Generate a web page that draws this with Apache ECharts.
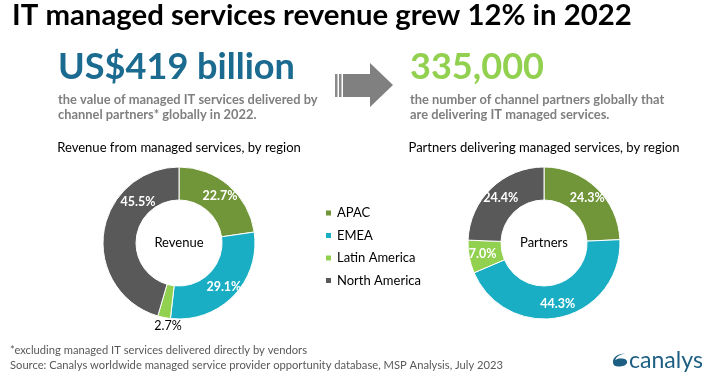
<!DOCTYPE html>
<html>
<head>
<meta charset="utf-8">
<script src="https://cdn.jsdelivr.net/npm/echarts@6/dist/echarts.min.js"></script>
<style>
  html, body { margin: 0; padding: 0; background: #fff; }
  #chart { width: 714px; height: 378px; }
</style>
</head>
<body>
<div id="chart"></div>
<script>
// ---- Data ----
const regions = ['APAC', 'EMEA', 'Latin America', 'North America'];
const revenueShare = [22.7, 29.1, 2.7, 45.5];
const partnerShare = [24.3, 44.3, 7.0, 24.4];

const headline = 'IT managed services revenue grew 12% in 2022';
const revenueTotal = 'US$419 billion';
const revenueNote = ['the value of managed IT services delivered by', 'channel partners* globally in 2022.'];
const partnerTotal = '335,000';
const partnerNote = ['the number of channel partners globally that', 'are delivering IT managed services.'];
const revenueChartTitle = 'Revenue from managed services, by region';
const partnerChartTitle = 'Partners delivering managed services, by region';
const revenueCenter = 'Revenue';
const partnerCenter = 'Partners';
const footnotes = ['*excluding managed IT services delivered directly by vendors',
  'Source: Canalys worldwide managed service provider opportunity database, MSP Analysis, July 2023'];
const brand = 'canalys';

// ---- Style / layout ----
const FAMILY = 'Lato, "Open Sans", sans-serif';
const colors = ['#71963a', '#1aaec4', '#92d050', '#595959'];
const LC = [179, 243], RC = [544, 243];
const RADIUS = [43, 76];

const cv = document.createElement('canvas').getContext('2d');
function fit(text, weight, width) {
  cv.font = weight + ' 100px Lato';
  return 100 * width / cv.measureText(text).width;
}

const titleSize = fit(headline, 'bold', 620);
const bigSize = fit(revenueTotal, 'bold', 237);
const noteSize = fit(revenueNote[0], 'bold', 260);
const footSize = fit(footnotes[1], 'normal', 494);
const chartTitleSize = fit(revenueChartTitle, 'normal', 244);
const brandSize = fit(brand, 'normal', 74);

function txt(x, y, text, size, weight, fill, align) {
  return {
    type: 'text', x: x, y: y, silent: true,
    style: {
      text: text, fontSize: size, fontWeight: weight, fontFamily: FAMILY,
      fill: fill, align: align || 'left', verticalAlign: 'middle'
    }
  };
}

// label overrides for the revenue donut (angle clockwise from top, radius px)
const leftLabelOverride = { 2: { angle: 187.5, r: 84 }, 3: { angle: 315, r: 58 } };

function pieSeries(name, values, center, overrides) {
  const s = {
    type: 'pie',
    name: name,
    center: center,
    radius: RADIUS,
    startAngle: 90,
    clockwise: true,
    avoidLabelOverlap: false,
    silent: true,
    itemStyle: { borderColor: '#fff', borderWidth: 1 },
    label: {
      show: true, position: 'inside', color: '#fff', fontFamily: FAMILY,
      fontSize: 12.5, fontWeight: 'bold',
      formatter: p => p.value.toFixed(1) + '%'
    },
    labelLine: { show: false },
    data: regions.map((r, i) => {
      const d = { name: r, value: values[i], itemStyle: { color: colors[i] } };
      if (overrides && overrides[i] && i === 2) {
        d.label = { color: '#000', fontWeight: 'normal' };
      }
      return d;
    })
  };
  if (overrides) {
    s.labelLayout = function (p) {
      const o = overrides[p.dataIndex];
      if (!o) return {};
      const a = o.angle * Math.PI / 180;
      return { x: center[0] + o.r * Math.sin(a), y: center[1] - o.r * Math.cos(a), align: 'center', verticalAlign: 'middle' };
    };
  }
  return s;
}

const logoSvg = '<svg xmlns="http://www.w3.org/2000/svg" width="16" height="15" viewBox="612 353 17 15">' +
  '<path fill="#1d5f82" d="M613,362 C613,357 618,353 626,353 C620,354 616,357 615.5,360 C617,358.5 620,358 623,358.5 C627,359 628.5,361 628,363 C627,366 623,367 619,367 C615,367 613,365 613,362 Z"/></svg>';

const chart = echarts.init(document.getElementById('chart'), null, { renderer: 'canvas' });
chart.setOption({
  backgroundColor: '#fff',
  animation: false,
  color: colors,
  legend: {
    orient: 'vertical',
    left: 319, top: 201,
    icon: 'rect',
    itemWidth: 7, itemHeight: 7,
    itemGap: 8.5,
    selectedMode: false,
    data: regions,
    textStyle: { fontFamily: FAMILY, fontSize: 13, color: '#000', lineHeight: 14 }
  },
  series: [
    pieSeries('Revenue', revenueShare, LC, leftLabelOverride),
    pieSeries('Partners', partnerShare, RC, null)
  ],
  graphic: [
    txt(12, 16, headline, titleSize, 'bold', '#000'),
    txt(58, 67, revenueTotal, bigSize, 'bold', '#1b6a8f'),
    txt(410, 67, partnerTotal, bigSize, 'bold', '#92d050'),
    txt(58, 100, revenueNote[0], noteSize, 'bold', '#7f7f7f'),
    txt(58, 115, revenueNote[1], noteSize, 'bold', '#7f7f7f'),
    txt(410, 100, partnerNote[0], noteSize, 'bold', '#7f7f7f'),
    txt(410, 115, partnerNote[1], noteSize, 'bold', '#7f7f7f'),
    txt(LC[0], 148, revenueChartTitle, chartTitleSize, 'normal', '#000', 'center'),
    txt(RC[0], 148, partnerChartTitle, chartTitleSize, 'normal', '#000', 'center'),
    txt(LC[0], LC[1], revenueCenter, 13, 'normal', '#000', 'center'),
    txt(RC[0], RC[1], partnerCenter, 13, 'normal', '#000', 'center'),
    txt(10, 350, footnotes[0], footSize, 'normal', '#595959'),
    txt(10, 365, footnotes[1], footSize, 'normal', '#595959'),
    // arrow
    { type: 'rect', silent: true, shape: { x: 335, y: 74, width: 2.5, height: 23 }, style: { fill: '#8a8a8a' } },
    { type: 'rect', silent: true, shape: { x: 339, y: 74, width: 2.5, height: 23 }, style: { fill: '#8a8a8a' } },
    { type: 'polygon', silent: true,
      shape: { points: [[343, 74], [370, 74], [370, 63], [393, 85], [370, 107], [370, 97], [343, 97]] },
      style: { fill: '#808080' } },
    // logo
    { type: 'image', silent: true, x: 612, y: 353,
      style: { image: 'data:image/svg+xml;charset=utf-8,' + encodeURIComponent(logoSvg), width: 16, height: 15 } },
    txt(629, 361, brand, brandSize, 'normal', '#1d5f82')
  ]
});
</script>
</body>
</html>
